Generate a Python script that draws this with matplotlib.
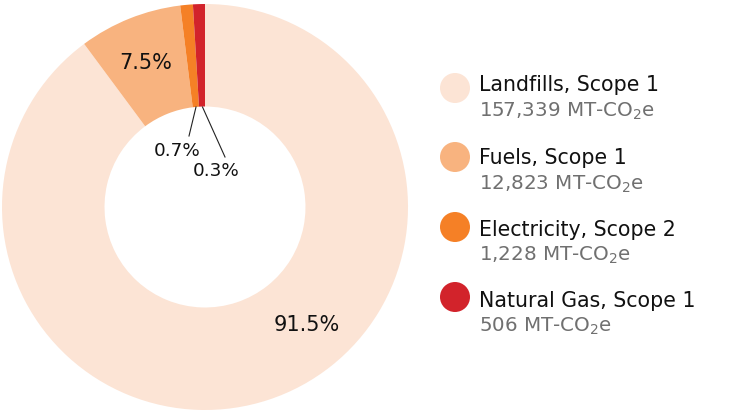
import matplotlib
matplotlib.use("Agg")
import matplotlib.pyplot as plt
from matplotlib.patches import Circle

plt.rcParams['font.family'] = ['DejaVu Sans']
plt.rcParams['mathtext.fontset'] = 'dejavusans'

categories = ["Landfills, Scope 1", "Fuels, Scope 1", "Electricity, Scope 2", "Natural Gas, Scope 1"]
values = [157339, 12823, 1228, 506]
pct_labels = ["91.5%", "7.5%", "0.7%", "0.3%"]
# slice shares as drawn in the chart (small slices are enlarged for visibility)
display_shares = [89.85, 8.2, 1.0, 0.95]
colors = ["#FCE4D5", "#F8B37F", "#F58026", "#D2232B"]

W, H = 743, 411
fig = plt.figure(figsize=(W / 100, H / 100), dpi=100)

cx, cy, R = 205, 207, 203
ax = fig.add_axes([(cx - R) / W, (H - cy - R) / H, 2 * R / W, 2 * R / H])
wedges, _ = ax.pie(display_shares, colors=colors, startangle=90, counterclock=False,
                   radius=1.0, wedgeprops=dict(width=0.505, edgecolor='none'))
ax.set_xlim(-1, 1)
ax.set_ylim(-1, 1)
ax.set_aspect('equal')
ax.axis('off')

def px(x, y):
    return ((x - cx) / R, (cy - y) / R)

ax.text(*px(307, 331), pct_labels[0], ha='center', va='baseline', fontsize=15, color='#111111')
ax.text(*px(146, 69), pct_labels[1], ha='center', va='baseline', fontsize=15, color='#111111')
ax.text(*px(177, 156), pct_labels[2], ha='center', va='baseline', fontsize=13.2, color='#111111')
ax.text(*px(216, 176), pct_labels[3], ha='center', va='baseline', fontsize=13.2, color='#111111')
ax.plot(*zip(px(196, 107), px(189, 136)), color='#222222', lw=0.8)
ax.plot(*zip(px(202.5, 107), px(225, 157)), color='#222222', lw=0.8)

# legend
lax = fig.add_axes([0, 0, 1, 1])
lax.set_xlim(0, W)
lax.set_ylim(H, 0)
lax.axis('off')
subs = [f"{v:,} MT-CO$_2$e" for v in values]
circle_y = [88, 157, 227, 297]
title_base = [91, 164, 236, 307]
sub_base = [117, 190, 261, 332]
for i, (cat, sub, col) in enumerate(zip(categories, subs, colors)):
    lax.add_patch(Circle((455, circle_y[i]), 15, color=col, lw=0))
    lax.text(479, title_base[i], cat, ha='left', va='baseline', fontsize=14.8, color='#111111')
    lax.text(479, sub_base[i], sub, ha='left', va='baseline', fontsize=14.3, color='#707070')

fig.savefig("out.png", dpi=100)
